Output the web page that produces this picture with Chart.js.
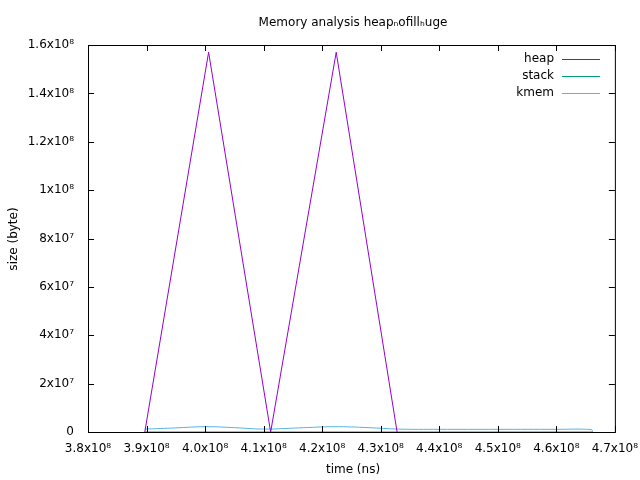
<!DOCTYPE html>
<html><head><meta charset="utf-8">
<script src="https://cdn.jsdelivr.net/npm/chart.js@4/dist/chart.umd.min.js"></script>
<style>body{margin:0;background:#fff}#c{display:block}</style>
</head><body>
<canvas id="c" width="640" height="480"></canvas>
<script>
const heapX = [3.897e8, 4.006e8, 4.112e8, 4.224e8, 4.328e8];
const heapY = [0, 1.57e8, 0, 1.57e8, 0];
const stackX = [3.897e8, 4.662e8];
const stackY = [0, 0];
const kmemX = [3.897e8, 3.95e8, 4.0e8, 4.05e8, 4.1e8, 4.16e8, 4.22e8, 4.28e8, 4.33e8, 4.4e8, 4.5e8, 4.6e8, 4.66e8, 4.662e8];
const kmemY = [1.2e6, 1.7e6, 2.2e6, 1.8e6, 1.2e6, 1.7e6, 2.2e6, 1.8e6, 1.2e6, 1.1e6, 1.1e6, 1.1e6, 1.0e6, 0];
const xTicks = [3.8,3.9,4.0,4.1,4.2,4.3,4.4,4.5,4.6,4.7];
const yTicks = [0,2,4,6,8,10,12,14,16];
const yLabels = ['0','2x10\u2077','4x10\u2077','6x10\u2077','8x10\u2077','1x10\u2078','1.2x10\u2078','1.4x10\u2078','1.6x10\u2078'];
const names = ['heap','stack','kmem'];
const colors = ['#9400d3','#009e73','#56b4e9'];

const pts = (xs, ys) => xs.map((x, i) => ({x: x, y: ys[i]}));
const FONT = '12px "DejaVu Sans"';

const gnuplot = {
  id: 'gnuplot',
  afterDraw(chart) {
    const ctx = chart.ctx, a = chart.chartArea;
    const xs = chart.scales.x, ys = chart.scales.y;
    ctx.save();
    ctx.strokeStyle = '#000'; ctx.lineWidth = 1;
    ctx.strokeRect(a.left + 0.5, a.top + 0.5, a.right - a.left, a.bottom - a.top);
    ctx.beginPath();
    xTicks.forEach(t => {
      const p = Math.round(xs.getPixelForValue(t * 1e8)) + 0.5;
      ctx.moveTo(p, a.bottom); ctx.lineTo(p, a.bottom - 6);
      ctx.moveTo(p, a.top); ctx.lineTo(p, a.top + 6);
    });
    yTicks.forEach(t => {
      const p = Math.round(ys.getPixelForValue(t * 1e7)) + 0.5;
      ctx.moveTo(a.left, p); ctx.lineTo(a.left + 6, p);
      ctx.moveTo(a.right, p); ctx.lineTo(a.right - 6, p);
    });
    ctx.stroke();
    ctx.fillStyle = '#000'; ctx.font = FONT;
    ctx.textAlign = 'center'; ctx.textBaseline = 'middle';
    ctx.fillText('Memory analysis heap\u2099ofill\u2095uge', 353, 23);
    ctx.fillText('time (ns)', 353, 470);
    ctx.save(); ctx.translate(14, 239); ctx.rotate(-Math.PI / 2);
    ctx.fillText('size (byte)', 0, 0); ctx.restore();
    ctx.textAlign = 'right';
    names.forEach((n, i) => {
      const y = 59 + i * 17;
      ctx.fillStyle = '#000'; ctx.fillText(n, 554, y);
      ctx.strokeStyle = colors[i]; ctx.beginPath();
      ctx.moveTo(562, y + 0.5); ctx.lineTo(600, y + 0.5); ctx.stroke();
    });
    ctx.restore();
  }
};

new Chart(document.getElementById('c'), {
  type: 'line',
  data: {
    datasets: names.map((n, i) => ({
      label: n,
      data: i === 0 ? pts(heapX, heapY) : i === 1 ? pts(stackX, stackY) : pts(kmemX, kmemY),
      borderColor: colors[i], borderWidth: 1, pointRadius: 0, tension: i === 2 ? 0.4 : 0, fill: false
    }))
  },
  options: {
    responsive: false, animation: false,
    layout: {padding: {top: 45, right: 24, left: 0, bottom: 0}},
    plugins: {legend: {display: false}, title: {display: false}, tooltip: {enabled: false}},
    scales: {
      x: {
        type: 'linear', min: 3.8e8, max: 4.7e8,
        grid: {display: false}, border: {display: false},
        afterFit: s => { s.height = 48; },
        afterBuildTicks: s => { s.ticks = xTicks.map(t => ({value: t * 1e8})); },
        ticks: {color: '#000', font: {family: 'DejaVu Sans', size: 12}, padding: 2, maxRotation: 0,
          callback: v => (v / 1e8).toFixed(1) + 'x10\u2078'}
      },
      y: {
        min: 0, max: 1.6e8,
        grid: {display: false}, border: {display: false},
        afterFit: s => { s.width = 88; },
        afterBuildTicks: s => { s.ticks = yTicks.map(t => ({value: t * 1e7})); },
        ticks: {color: '#000', font: {family: 'DejaVu Sans', size: 12}, padding: 6,
          callback: (v) => yLabels[yTicks.indexOf(Math.round(v / 1e7))]}
      }
    }
  },
  plugins: [gnuplot]
});
</script>
</body></html>
